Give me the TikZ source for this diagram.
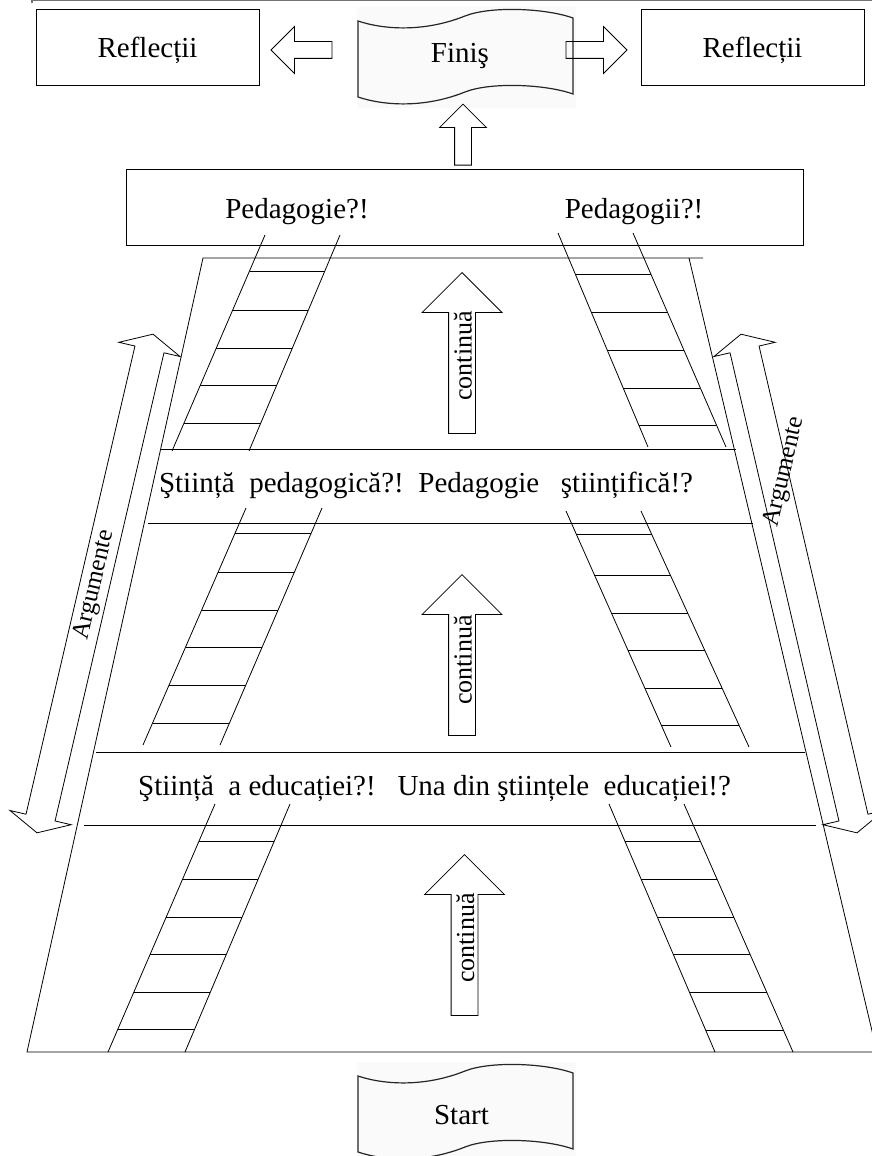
\documentclass[tikz,border=0pt]{standalone}
\usepackage{fontspec}
\setmainfont{Liberation Serif}
\usetikzlibrary{shapes.arrows}

% ladder: rails from top ends (#1,#3),(#2,#3) to bottom ends (#4,#6),(#5,#6), rungs at #7
\newcommand{\ladder}[7]{%
  \draw (#1,#3) -- (#4,#6) (#2,#3) -- (#5,#6);
  \foreach \h in {#7}{%
    \pgfmathsetmacro{\rt}{(\h-#3)/(#6-#3)}
    \draw ({#1+(#4-#1)*\rt},\h) -- ({#2+(#5-#2)*\rt},\h);
  }}

% wavy paper sheet (Finis on top, Start shifted down)
\newcommand{\scrollpaper}[1]{%
  \begin{scope}[shift={(0,#1)}]
    \fill[black!2] (357,7) rectangle (576,108);
    \draw[line width=1.2pt, black!85] (358,21) .. controls (385,30) and (425,32) .. (465,16)
      .. controls (490,6) and (545,8) .. (573,18) -- (573,94)
      .. controls (545,84) and (490,82) .. (465,92)
      .. controls (425,108) and (385,106) .. (358,97) -- cycle;
  \end{scope}}

\begin{document}
\begin{tikzpicture} [
    x=1pt, y=-1pt,
    line width=0.8pt,
    txt/.style      = { font=\fontsize{29}{32}\selectfont, anchor=base },
    box/.style      = { rectangle, draw, line width=0.9pt, inner sep=0pt,
                        font=\fontsize{29}{32}\selectfont,
                        text height=20pt, text depth=0pt },
    hollow/.style   = { single arrow, draw, inner xsep=0pt, anchor=tip,
                        single arrow tip angle=90 },
    sidearrow/.style = { hollow, inner ysep=8pt, single arrow head extend=15pt,
                        minimum height=61pt },
    climb/.style    = { hollow, rotate=90, inner ysep=13pt,
                        single arrow head extend=26.5pt, minimum height=161pt },
    argarrow/.style = { double arrow, draw, inner xsep=0pt, inner ysep=14.5pt,
                        double arrow head extend=16.5pt, double arrow tip angle=127,
                        minimum height=512pt },
    vert/.style     = { font=\fontsize{26}{28}\selectfont, rotate=90, anchor=base },
    slanted/.style  = { font=\fontsize{25}{27}\selectfont, rotate=77 },
  ]
\useasboundingbox (0,0) rectangle (872,1156);

\draw[line width=1.5pt, black!55] (32,3) -- (32,0.7) -- (872,0.7);

\scrollpaper{0}
\scrollpaper{1055}

\node (reflL) [box, minimum width=223pt, minimum height=76pt] at (147.5,47) {Reflecții};
\node (reflR) [box, minimum width=223pt, minimum height=76pt] at (752.5,47) {Reflecții};
\node (fin) [txt] at (460,63) {Finiş};
\node (start) [txt] at (461.5,1124) {Start};

\node (ped) [box, minimum width=677pt, minimum height=76pt] at (464.5,207) {};
\node (pedL) [txt] at (297,218) {Pedagogie?!};
\node (pedR) [txt] at (634,218) {Pedagogii?!};

\node (toL) [sidearrow, rotate=180] at ([xshift=11pt, yshift=-3pt]reflL.east) {};
\node (toR) [sidearrow] at ([xshift=-13pt, yshift=-3pt]reflR.west) {};
\node (toFin) [sidearrow, rotate=90] at ([xshift=-1.5pt, yshift=65pt]ped.north) {};

% the stairs
\draw (703,258) -- (203,258) -- (27,1052) -- (877,1052) -- (689,258);
\draw (161,449) -- (736,449);
\draw (148,523) -- (753,523);
\draw (96,752) -- (805,752);
\draw (84,825) -- (816,825);

\node (band1) [txt] at (426,492) {Ştiință\ \ pedagogică?!\ \ Pedagogie\ \ \ ştiințifică!?};
\node (band2) [txt] at (434.5,795) {Ştiință\ \ a educației?!\ \ \ Una din ştiințele\ \ educației!?};

\ladder{265}{340}{235}{172}{249}{451}{271,310,348,385,423}
\ladder{558}{633}{233}{648}{726}{447}{274,312,350,388,425}
\ladder{246}{322}{508}{143}{220}{745}{533,572,610,647,685,723}
\ladder{566}{641}{511}{671}{749}{747}{534,575,613,650,688,725}
\ladder{215}{290}{804}{108}{185}{1052}{841,879,917,954,992,1029}
\ladder{609}{684}{804}{715}{793}{1052}{841,879,917,954,992,1030}

\node (up1) [climb] at (462,272) {};
\node (cont1) [vert] at (471.5,356) {continuă};
\node (up2) [climb] at (462,574) {};
\node (cont2) [vert] at (471.5,660) {continuă};
\node (up3) [climb] at (464.5,854) {};
\node (cont3) [vert] at (474,938) {continuă};

\node (argL) [argarrow, rotate=76.9] at (95,583.5) {};
\node (argR) [argarrow, rotate=103.1] at (799,583.5) {};
\node (argLt) [slanted] at (95,585) {Argumente};
\node (argRt) [slanted] at (785,472) {Argumente};

\end{tikzpicture}
\end{document}
